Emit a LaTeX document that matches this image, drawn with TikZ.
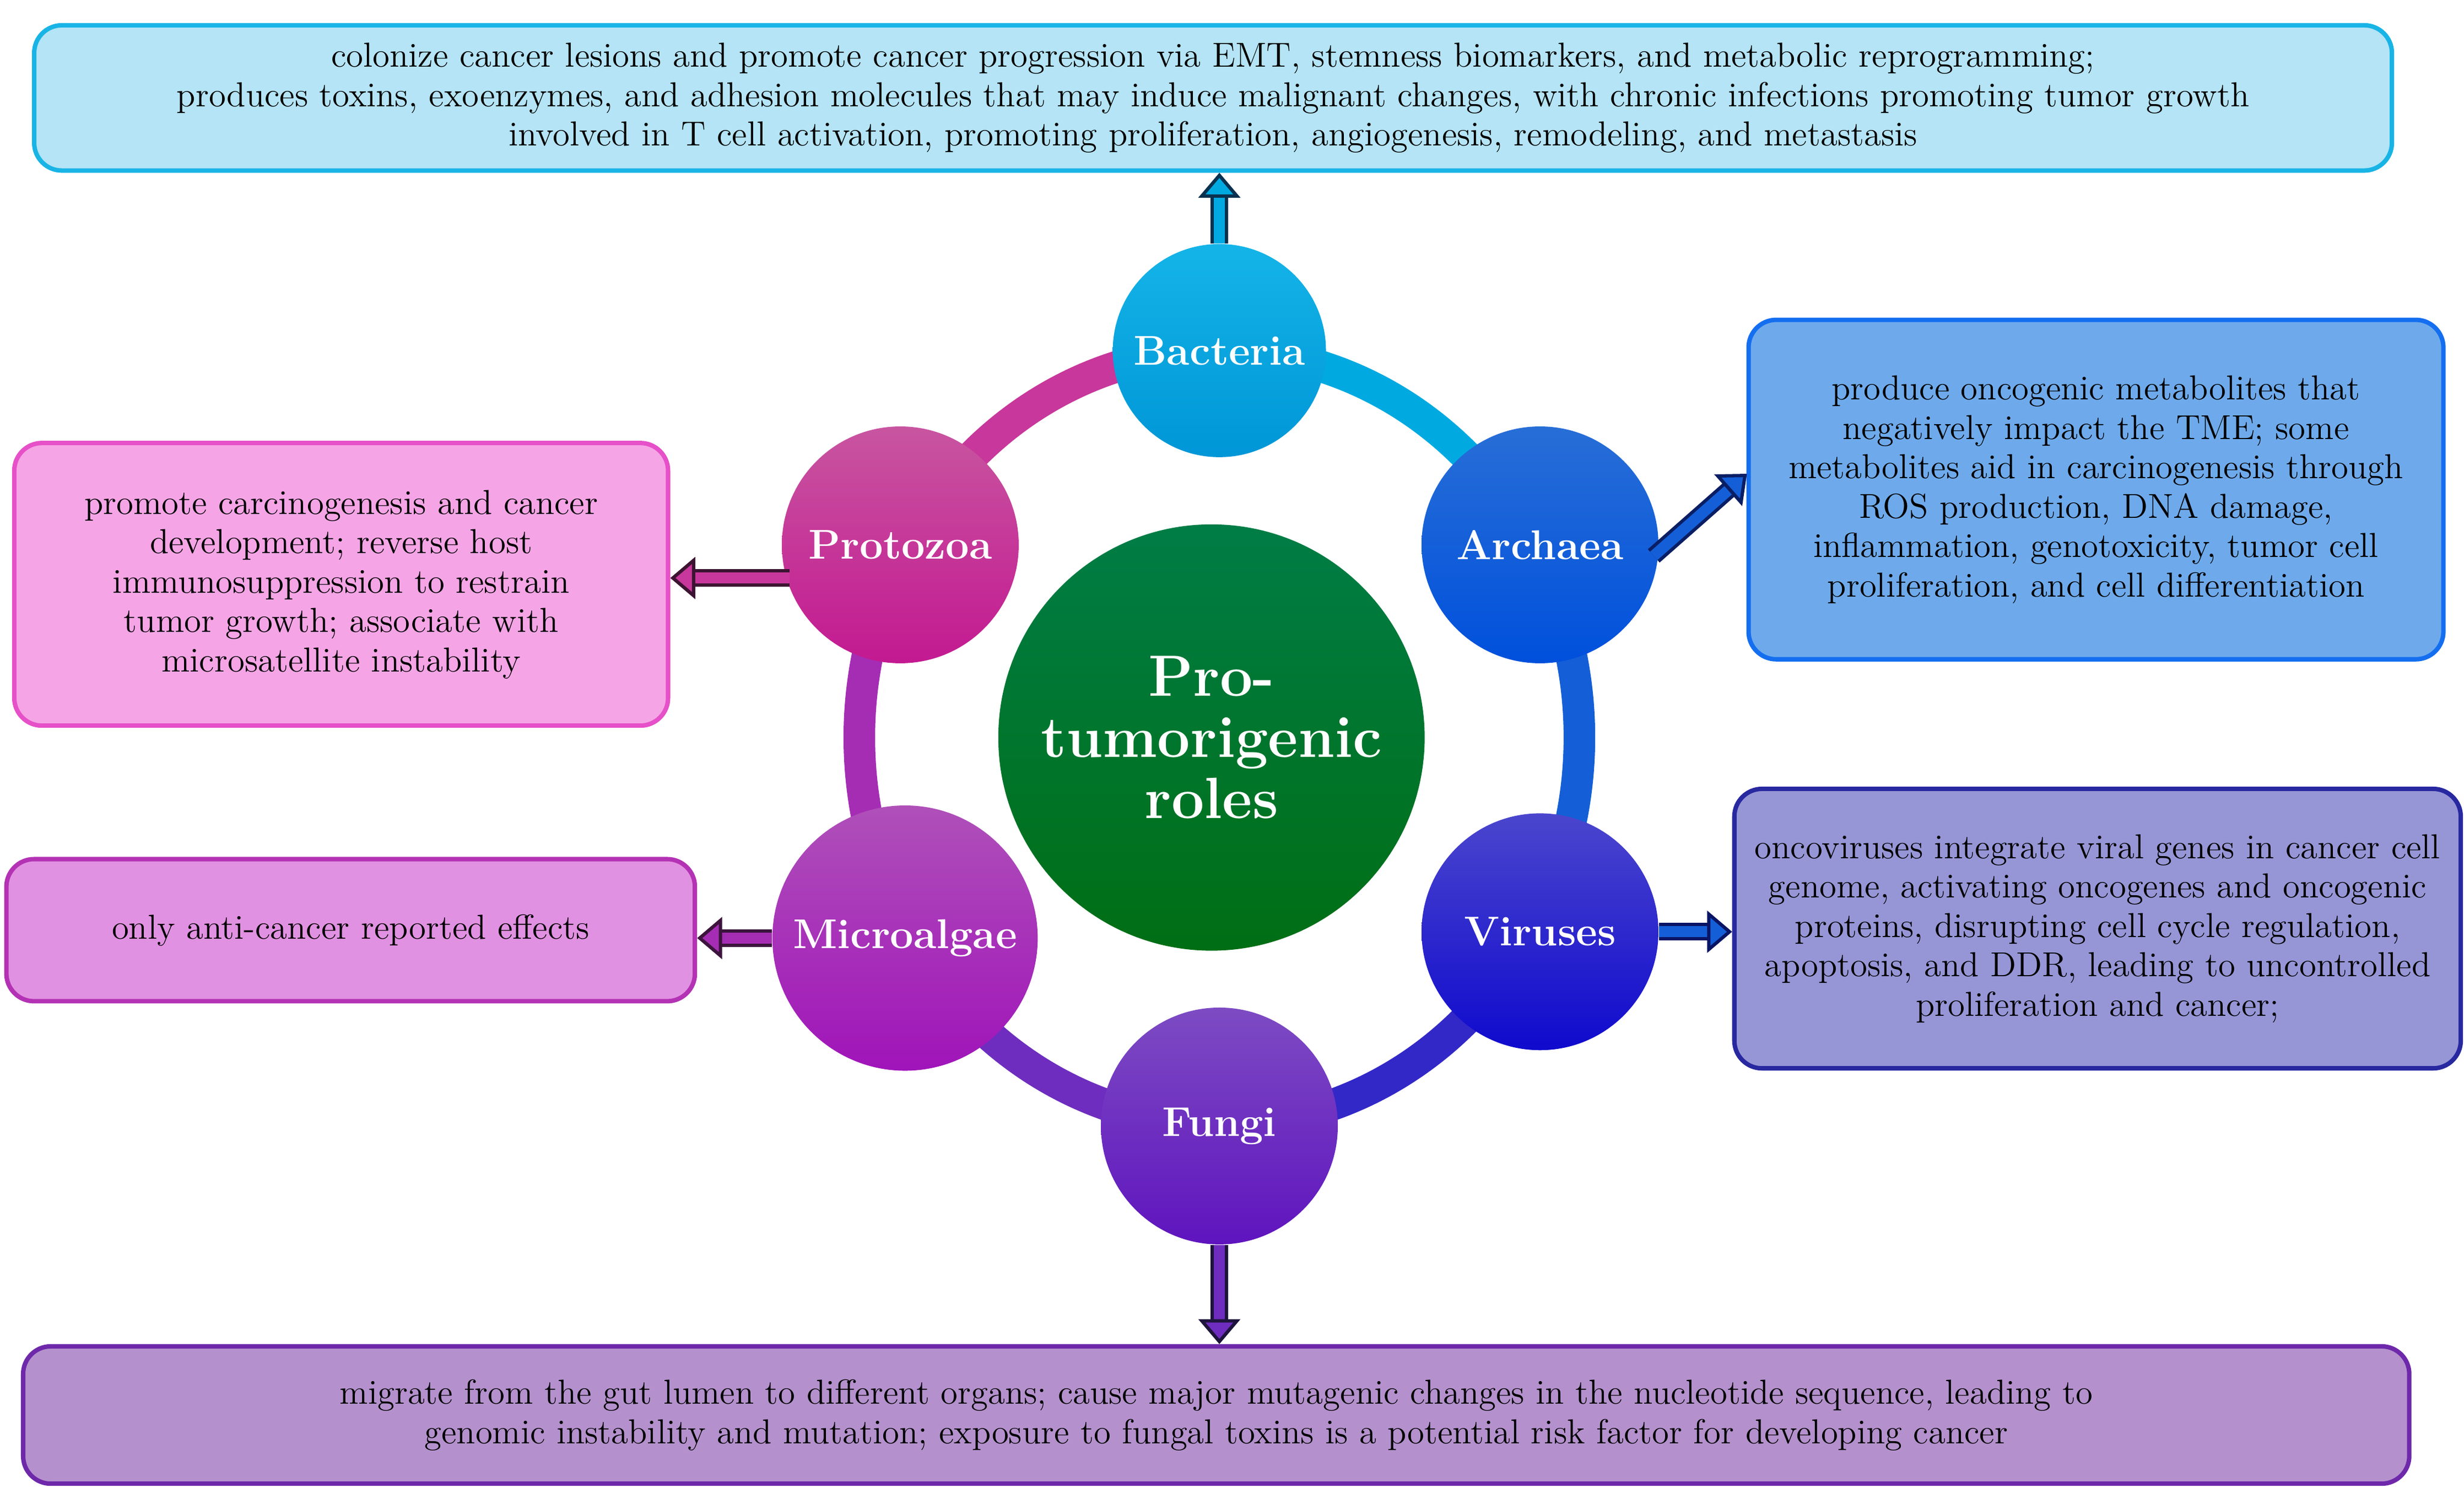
\documentclass[tikz,border=0pt]{standalone}
\usetikzlibrary{arrows.meta}
\begin{document}
\begin{tikzpicture}[x=0.02cm,y=-0.02cm,
 box/.style={draw,rounded corners=0.35cm,line width=1.6pt,align=center,inner sep=0pt,font=\fontsize{12.5}{14.2}\selectfont},
 bub/.style={circle,minimum size=#1,inner sep=0pt,text=white,font=\bfseries\fontsize{15}{17}\selectfont},
 ring/.style={line width=0.4cm},
 arr/.style={line width=1.2pt,double=#1,double distance=4pt,-{Triangle[length=9pt,width=15pt,fill=#1]}}]
\definecolor{cB}{RGB}{0,170,225}\definecolor{cA}{RGB}{20,95,215}
\definecolor{cV}{RGB}{50,40,200}\definecolor{cF}{RGB}{110,45,190}
\definecolor{cM}{RGB}{165,45,180}\definecolor{cP}{RGB}{200,55,155}
\useasboundingbox (0,0) rectangle (1560,949);
% boxes
\node[box,fill={rgb,255:red,180;green,228;blue,245},draw={rgb,255:red,25;green,180;blue,230},minimum width=29.86cm,minimum height=1.84cm] (top) at (768,62) {colonize cancer lesions and promote cancer progression via EMT, stemness biomarkers, and metabolic reprogramming;\\produces toxins, exoenzymes, and adhesion molecules that may induce malignant changes, with chronic infections promoting tumor growth\\involved in T cell activation, promoting proliferation, angiogenesis, remodeling, and metastasis};
\node[box,fill={rgb,255:red,110;green,170;blue,235},draw={rgb,255:red,20;green,110;blue,240},minimum width=8.8cm,minimum height=4.3cm] (abox) at (1327,310) {produce oncogenic metabolites that\\negatively impact the TME; some\\metabolites aid in carcinogenesis through\\ROS production, DNA damage,\\inflammation, genotoxicity, tumor cell\\proliferation, and cell differentiation};
\node[box,fill={rgb,255:red,150;green,150;blue,215},draw={rgb,255:red,40;green,40;blue,160},minimum width=9.2cm,minimum height=3.54cm] (vbox) at (1328,588) {oncoviruses integrate viral genes in cancer cell\\genome, activating oncogenes and oncogenic\\proteins, disrupting cell cycle regulation,\\apoptosis, and DDR, leading to uncontrolled\\proliferation and cancer;};
\node[box,fill={rgb,255:red,180;green,145;blue,205},draw={rgb,255:red,110;green,40;blue,170},minimum width=30.22cm,minimum height=1.74cm] (fbox) at (770,896) {migrate from the gut lumen to different organs; cause major mutagenic changes in the nucleotide sequence, leading to\\genomic instability and mutation; exposure to fungal toxins is a potential risk factor for developing cancer};
\node[box,fill={rgb,255:red,245;green,165;blue,230},draw={rgb,255:red,230;green,80;blue,200},minimum width=8.28cm,minimum height=3.58cm] (pbox) at (216,370) {promote carcinogenesis and cancer\\development; reverse host\\immunosuppression to restrain\\tumor growth; associate with\\microsatellite instability};
\node[box,fill={rgb,255:red,225;green,145;blue,225},draw={rgb,255:red,180;green,50;blue,180},minimum width=8.72cm,minimum height=1.8cm] (mbox) at (222,589) {only anti-cancer reported effects};
% ring
\coordinate (c) at (772,467);
\def\rr#1#2#3{\draw[ring,#3] ([shift={(c)}]#1:4.56cm and 4.9cm) arc[start angle=#1,end angle=#2,x radius=4.56cm,y radius=4.9cm];}
\rr{90}{29}{cB}\rr{29}{-30}{cA}\rr{-30}{-90}{cV}\rr{-90}{-149}{cF}\rr{211}{150}{cM}\rr{150}{90}{cP}
% bubbles
\node[bub=2.7cm,shading=axis,top color={rgb,255:red,20;green,180;blue,232},bottom color={rgb,255:red,0;green,150;blue,215}] (bac) at (772,222) {Bacteria};
\node[bub=3cm,shading=axis,top color={rgb,255:red,40;green,110;blue,215},bottom color={rgb,255:red,0;green,80;blue,220}] (arc) at (975,345) {Archaea};
\node[bub=3cm,shading=axis,top color={rgb,255:red,75;green,70;blue,205},bottom color={rgb,255:red,15;green,10;blue,205}] (vir) at (975,590) {Viruses};
\node[bub=3cm,shading=axis,top color={rgb,255:red,125;green,75;blue,195},bottom color={rgb,255:red,95;green,20;blue,190}] (fun) at (772,713) {Fungi};
\node[bub=3.36cm,shading=axis,top color={rgb,255:red,175;green,80;blue,185},bottom color={rgb,255:red,160;green,20;blue,185}] (mic) at (573,594) {Microalgae};
\node[bub=3cm,shading=axis,top color={rgb,255:red,200;green,85;blue,160},bottom color={rgb,255:red,195;green,25;blue,145}] (pro) at (570,345) {Protozoa};
\node[circle,minimum size=5.4cm,inner sep=0pt,text=white,align=center,font=\bfseries\fontsize{21}{22}\selectfont,shading=axis,top color={rgb,255:red,0;green,125;blue,70},bottom color={rgb,255:red,0;green,110;blue,20}] (ctr) at (767,467) {Pro-\\tumorigenic\\roles};
% arrows
\draw[arr=cB,draw={rgb,255:red,10;green,50;blue,80}] (bac.north) -- (top.south-|bac);
\draw[arr=cA,draw={rgb,255:red,10;green,30;blue,100}] (1047,352) -- (1106,300);
\draw[arr=cA,draw={rgb,255:red,10;green,20;blue,100}] (vir.east) -- (vir.east-|vbox.west);
\draw[arr=cF,draw={rgb,255:red,30;green,20;blue,60}] (fun.south) -- (fbox.north-|fun);
\draw[arr=cP,draw={rgb,255:red,60;green,20;blue,50}] (500,366) -- (pbox.east|-0,366);
\draw[arr=cM,draw={rgb,255:red,60;green,20;blue,60}] (mic.west) -- (mbox.east|-mic);
\end{tikzpicture}
\end{document}
